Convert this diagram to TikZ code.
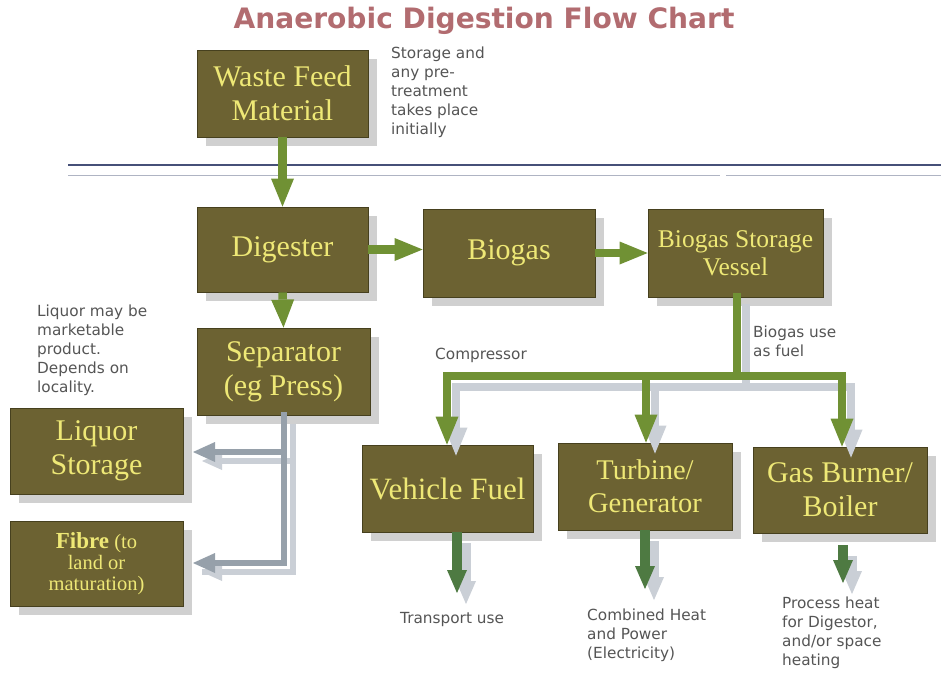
\documentclass[tikz,border=0pt]{standalone}
\usepackage{fontspec}
\setmainfont{Liberation Serif}
\newfontfamily\labelfont{DejaVu Sans}
\newfontfamily\titlefont{DejaVu Sans}
\usetikzlibrary{arrows.meta,shadows}
\definecolor{boxfill}{RGB}{108,98,50}
\definecolor{boxedge}{RGB}{70,64,30}
\definecolor{boxtext}{RGB}{238,232,118}
\definecolor{agreen}{RGB}{112,145,52}
\definecolor{dgreen}{RGB}{78,122,66}
\definecolor{sgrey}{RGB}{202,207,214}
\definecolor{lgrey}{RGB}{150,160,170}
\definecolor{titlecol}{RGB}{178,108,112}
\definecolor{notecol}{RGB}{85,85,85}
\definecolor{rulecol}{RGB}{70,80,120}
\definecolor{rule2col}{RGB}{175,180,195}
\tikzset{
  box/.style={draw=boxedge, line width=0.8pt, fill=boxfill, text=boxtext,
    align=center, inner sep=2pt,
    font=\fontsize{30}{34}\selectfont,
    drop shadow={shadow xshift=9pt, shadow yshift=-9pt, fill=black!30, opacity=0.6}},
  garrow/.style={draw=agreen, line width=8.5pt, -{Triangle[width=23pt,length=28pt,line width=0pt]}},
  gline/.style={draw=agreen, line width=8.5pt, line cap=rect},
  sarrow/.style={draw=sgrey, line width=8.5pt, -{Triangle[width=23pt,length=28pt,line width=0pt]}},
  sline/.style={draw=sgrey, line width=8.5pt, line cap=rect},
  darrow/.style={draw=dgreen, line width=10pt, -{Triangle[width=20pt,length=23pt,line width=0pt]}},
  dsarrow/.style={draw=sgrey, line width=10pt, -{Triangle[width=20pt,length=23pt,line width=0pt]}},
  grarrow/.style={draw=lgrey, line width=6.5pt, -{Triangle[width=20pt,length=22pt,line width=0pt]}},
  grline/.style={draw=lgrey, line width=6.5pt, line cap=rect},
  note/.style={text=notecol, align=left, inner sep=0pt,
    font=\labelfont\fontsize{15.3}{19}\selectfont},
}
\begin{document}
\begin{tikzpicture}[x=1pt,y=-1pt]
\useasboundingbox (0,0) rectangle (941,675);
\fill[white] (0,0) rectangle (941,675);

% title
\node[text=titlecol, font=\titlefont\bfseries\fontsize{28.1}{30}\selectfont] (title) at (484,21) {Anaerobic Digestion Flow Chart};

% rules
\draw[rulecol, line width=1.5pt] (68,165) -- (941,165);
\draw[rule2col, line width=1pt] (68,175) -- (720,175);
\draw[rule2col, line width=1pt] (726,175) -- (941,175);

% boxes
\node[box, minimum width=171pt, minimum height=87pt] (waste) at (282.5,93.5) {Waste Feed\\Material};
\node[box, minimum width=171pt, minimum height=85pt] (digester) at (282.5,249.5) {Digester};
\node[box, minimum width=172pt, minimum height=88pt] (biogas) at (509,253) {Biogas};
\node[box, minimum width=175pt, minimum height=88pt, font=\fontsize{25.5}{28}\selectfont] (storage) at (735.5,253) {Biogas Storage\\Vessel};
\node[box, minimum width=173pt, minimum height=87pt] (separator) at (283.5,371.5) {Separator\\(eg Press)};
\node[box, minimum width=173pt, minimum height=86pt] (liquor) at (96.5,451) {Liquor\\Storage};
\node[box, minimum width=173pt, minimum height=85pt, font=\fontsize{20.5}{21}\selectfont] (fibre) at (96.5,563.5) {{\fontsize{23}{21}\selectfont\bfseries Fibre} (to\\land or\\maturation)};
\node[box, minimum width=171pt, minimum height=87pt, font=\fontsize{31}{34}\selectfont] (vehicle) at (447.5,488.5) {Vehicle Fuel};
\node[box, minimum width=174pt, minimum height=87pt, font=\fontsize{28.5}{33}\selectfont] (turbine) at (645,486.5) {Turbine/\\Generator};
\node[box, minimum width=174pt, minimum height=86pt] (burner) at (840,490) {Gas Burner/\\Boiler};

% notes
\node[note, anchor=north west] (n1) at (391,47) {Storage and\\any pre-\\treatment\\takes place\\initially};
\node[note, anchor=north west] (n2) at (37,305) {Liquor may be\\marketable\\product.\\Depends on\\locality.};
\node[note, anchor=west] (comp) at (435,355) {Compressor};
\node[note, anchor=north west] (use) at (753,326) {Biogas use\\as fuel};
\node[note, anchor=west] (trans) at (400,620) {Transport use};
\node[note, anchor=north west] (chp) at (587,609) {Combined Heat\\and Power\\(Electricity)};
\node[note, anchor=north west] (proc) at (782,597) {Process heat\\for Digestor,\\and/or space\\heating};

% junction coordinates
\coordinate (jx) at (737,376);
\coordinate (b1) at (447,376);
\coordinate (b2) at (646,376);
\coordinate (b3) at (842,376);
\coordinate (sx) at (284,452);
\coordinate (lt) at (193,452);
\coordinate (ft) at (193,563);
\coordinate (o1) at (457,593);
\coordinate (o2) at (645,589);
\coordinate (o3) at (843,583);
\coordinate (o3s) at (843,545);

% shadows of connectors
\begin{scope}[transform canvas={shift={(9pt,-11pt)}}]
  \draw[sline] (storage.south -| jx) -- (jx);
  \draw[sline] (b1) -- (b3);
  \draw[sarrow] (b1) -- (b1 |- vehicle.north);
  \draw[sarrow] (b2) -- (b2 |- turbine.north);
  \draw[sarrow] (b3) -- (b3 |- burner.north);
  \draw[dsarrow] (o1 |- vehicle.south) -- (o1);
  \draw[dsarrow] (o2 |- turbine.south) -- (o2);
  \draw[dsarrow] (o3s) -- (o3);
\end{scope}
\begin{scope}[transform canvas={shift={(9pt,-9pt)}}]
  \draw[sgrey, line width=6pt] (separator.south -| sx) -- (sx |- ft) -- (ft);
  \draw[sgrey, line width=6pt, -{Triangle[width=18pt,length=20pt,line width=0pt]}] (sx) -- (lt);
  \draw[sgrey, line width=6pt, -{Triangle[width=18pt,length=20pt,line width=0pt]}] (sx |- ft) -- (ft);
\end{scope}

% green connectors
\draw[garrow] (waste.south) -- (waste.south |- digester.north);
\draw[garrow] (digester.east) -- (digester.east -| biogas.west);
\draw[garrow] (biogas.east) -- (storage.west);
\draw[garrow] (digester.south) -- (separator.north);
\draw[gline] (storage.south -| jx) -- (jx);
\draw[gline] (b1) -- (b3);
\draw[garrow] (b1) -- (b1 |- vehicle.north);
\draw[garrow] (b2) -- (b2 |- turbine.north);
\draw[garrow] (b3) -- (b3 |- burner.north);

% outputs
\draw[darrow] (o1 |- vehicle.south) -- (o1);
\draw[darrow] (o2 |- turbine.south) -- (o2);
\draw[darrow] (o3s) -- (o3);

% separator outputs (grey)
\draw[grline] (separator.south -| sx) -- (sx |- ft);
\draw[grarrow] (sx) -- (lt);
\draw[grarrow] (sx |- ft) -- (ft);
\end{tikzpicture}
\end{document}
